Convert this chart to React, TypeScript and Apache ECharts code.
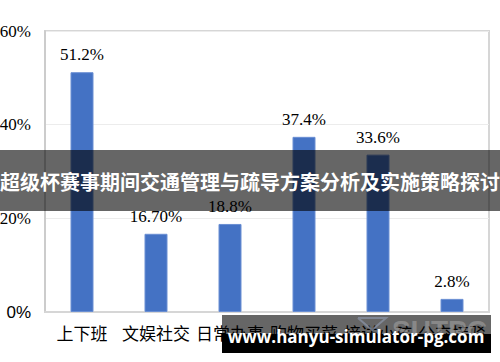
import React, { useEffect, useRef } from "react";
import * as echarts from "echarts";

const categories = ["上下班", "文娱社交", "日常办事", "购物买菜", "接送小孩", "公交接驳"];
const values = [51.2, 16.7, 18.8, 37.4, 33.6, 2.8];
const valueLabels = ["51.2%", "16.70%", "18.8%", "37.4%", "33.6%", "2.8%"];
const yTicks = [0, 20, 40, 60];
const bannerTitle = "超级杯赛事期间交通管理与疏导方案分析及实施策略探讨";
const watermark = "www.hanyu-simulator-pg.com";

export default function App() {
  const ref = useRef<HTMLDivElement>(null);
  useEffect(() => {
    if (!ref.current) return;
    const chart = echarts.init(ref.current, null, { renderer: "svg" });
    chart.setOption({
      animation: false,
      backgroundColor: "#ffffff",
      grid: {
        left: 45,
        right: 11,
        top: 31,
        bottom: 50,
        show: true,
        borderColor: "#d6d6d6",
        borderWidth: 2,
        outerBoundsMode: "none",
      },
      xAxis: {
        type: "category",
        data: categories,
        axisTick: { show: false },
        axisLine: { lineStyle: { color: "#d6d6d6", width: 2 } },
        axisLabel: {
          interval: 0,
          margin: 12,
          color: "#000",
          fontSize: 17,
          fontFamily: "Noto Sans CJK SC",
        },
      },
      yAxis: {
        type: "value",
        min: yTicks[0],
        max: yTicks[yTicks.length - 1],
        interval: 20,
        axisLine: { show: true, lineStyle: { color: "#cccccc", width: 2 } },
        axisTick: { show: false },
        splitLine: { lineStyle: { color: "#ececec", width: 1 } },
        axisLabel: {
          margin: 14,
          color: "#000",
          fontSize: 17,
          fontFamily: "Liberation Serif",
          formatter: (v: number) => (v === 0 ? "{s|0%}" : `${v}%`),
          rich: {
            s: { fontFamily: "Liberation Sans", fontSize: 17, color: "#000" },
          },
        },
      },
      series: [
        {
          type: "bar",
          data: values,
          barWidth: 23,
          itemStyle: { color: "#4472C4", borderColor: "#6a8fd3", borderWidth: 1 },
          label: {
            show: true,
            position: "top",
            distance: 9,
            color: "#000",
            fontSize: 17,
            fontFamily: "Liberation Serif",
            formatter: (p: any) => valueLabels[p.dataIndex],
          },
        },
      ],
      graphic: [
        {
          type: "rect",
          shape: { x: 0, y: 150, width: 500, height: 61 },
          style: { fill: "rgba(0,0,0,0.6)" },
          z: 100,
        },
        {
          type: "text",
          x: 250,
          y: 181,
          z: 101,
          style: {
            text: bannerTitle,
            fill: "#ffffff",
            font: "bold 20px 'Noto Sans CJK SC'",
            align: "center",
            verticalAlign: "middle",
          },
        },
        {
          type: "rect",
          shape: { x: 222, y: 315, width: 269, height: 19 },
          style: { fill: "rgba(0,0,0,0.6)" },
          z: 100,
        },
        {
          type: "polyline",
          shape: { points: [[358, 318], [386, 318], [372, 330], [358, 318]] },
          style: { stroke: "rgba(140,150,170,0.7)", lineWidth: 2, fill: "none" },
          z: 101,
        },
        {
          type: "text",
          x: 392,
          y: 316,
          z: 101,
          style: {
            text: "SUTPC",
            fill: "rgba(160,160,160,0.6)",
            font: "bold 28px 'Liberation Sans'",
            align: "left",
            verticalAlign: "top",
          },
        },
        {
          type: "rect",
          shape: { x: 222, y: 334, width: 269, height: 19 },
          style: { fill: "#000000" },
          z: 102,
        },
        {
          type: "text",
          x: 356,
          y: 336,
          z: 103,
          style: {
            text: watermark,
            fill: "#ffffff",
            font: "bold 17px 'Open Sans'",
            align: "center",
            verticalAlign: "middle",
          },
        },
      ],
    });
    return () => chart.dispose();
  }, []);
  return (
    <div
      ref={ref}
      style={{ position: "fixed", left: 0, top: 0, width: 500, height: 362 }}
    />
  );
}
